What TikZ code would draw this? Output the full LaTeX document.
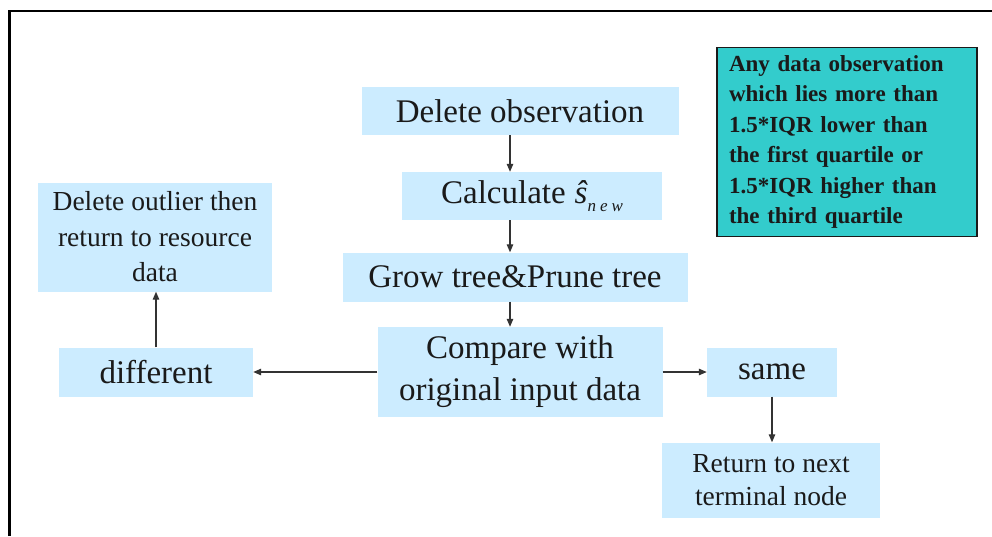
\documentclass[tikz,border=0pt]{standalone}
\usepackage{xcolor}
\usepackage{fontspec}
\setmainfont{Liberation Serif}
\usepackage{tikz}
\usetikzlibrary{arrows.meta}
\definecolor{BoxBlue}{HTML}{CCECFF}
\definecolor{NoteTeal}{HTML}{33CCCC}
\definecolor{TextDark}{HTML}{1A1A1A}
\definecolor{LineDark}{HTML}{333333}
\tikzset{
  flowbox/.style={fill=BoxBlue, inner sep=0pt, align=center, text=TextDark},
  bigtext/.style={font=\fontsize{33}{42}\selectfont},
  smalltext/.style={font=\fontsize{27.5}{34}\selectfont},
  flowarrow/.style={draw=LineDark, line width=1.2pt,
    -{Triangle[length=8pt,width=6.5pt]}}
}
\begin{document}
\begin{tikzpicture}[x=1pt, y=-1pt]
        \useasboundingbox (0,0) rectangle (992,536);
        \draw[line width=2.5pt] (9.3,536) -- (9.3,11) -- (992,11);

        \node[flowbox, bigtext, minimum width=317pt, minimum height=48pt]
          (delobs) at (520,111) {Delete observation};
        \node[flowbox, bigtext, minimum width=260pt, minimum height=48pt]
          (calc) at (532,196) {Calculate\hspace{9pt}{\itshape\^{s}}\raisebox{-8pt}{\fontsize{17}{17}\selectfont\itshape n\kern4pt e\kern4pt w}};
        \node[flowbox, bigtext, minimum width=345pt, minimum height=49pt]
          (grow) at (515,277) {Grow tree\&Prune tree};
        \node[flowbox, bigtext, minimum width=285pt, minimum height=90pt]
          (cmp) at (520,372) {Compare with\\original input data};
        \node[flowbox, bigtext, minimum width=194pt, minimum height=49pt]
          (diff) at (156,372) {different};
        \node[flowbox, bigtext, minimum width=130pt, minimum height=49pt]
          (same) at (772,372) {same};
        \node[flowbox, smalltext, minimum width=218pt, minimum height=75pt,
          font=\fontsize{27.5}{33}\selectfont]
          (ret) at (771,480) {Return to next\\terminal node};
        \node[flowbox, smalltext, minimum width=234pt, minimum height=109pt,
          font=\fontsize{27.5}{35.5}\selectfont]
          (outl) at (155,237) {Delete outlier then\\return to resource\\data};
        \node[draw=TextDark, line width=1.2pt, fill=NoteTeal, text=TextDark,
          minimum width=260pt, minimum height=189pt, text width=236pt,
          inner sep=0pt, align=left,
          font=\bfseries\fontsize{23}{30.5}\selectfont]
          (note) at (847,142) {Any data observation\\which lies more than\\1.5*IQR lower than\\the first quartile or\\1.5*IQR higher than\\the third quartile};

        \coordinate (spine) at (510,0);
        \draw[flowarrow] (delobs.south -| spine) -- (calc.north -| spine);
        \draw[flowarrow] (calc.south -| spine) -- (grow.north -| spine);
        \draw[flowarrow] (grow.south -| spine) -- (cmp.north -| spine);
        \draw[flowarrow] (cmp.west) -- (diff.east);
        \draw[flowarrow] (cmp.east) -- (same.west);
        \draw[flowarrow] (diff.north) -- (diff.north |- outl.south);
        \draw[flowarrow] (same.south) -- (same.south |- ret.north);
      \end{tikzpicture}
\end{document}
